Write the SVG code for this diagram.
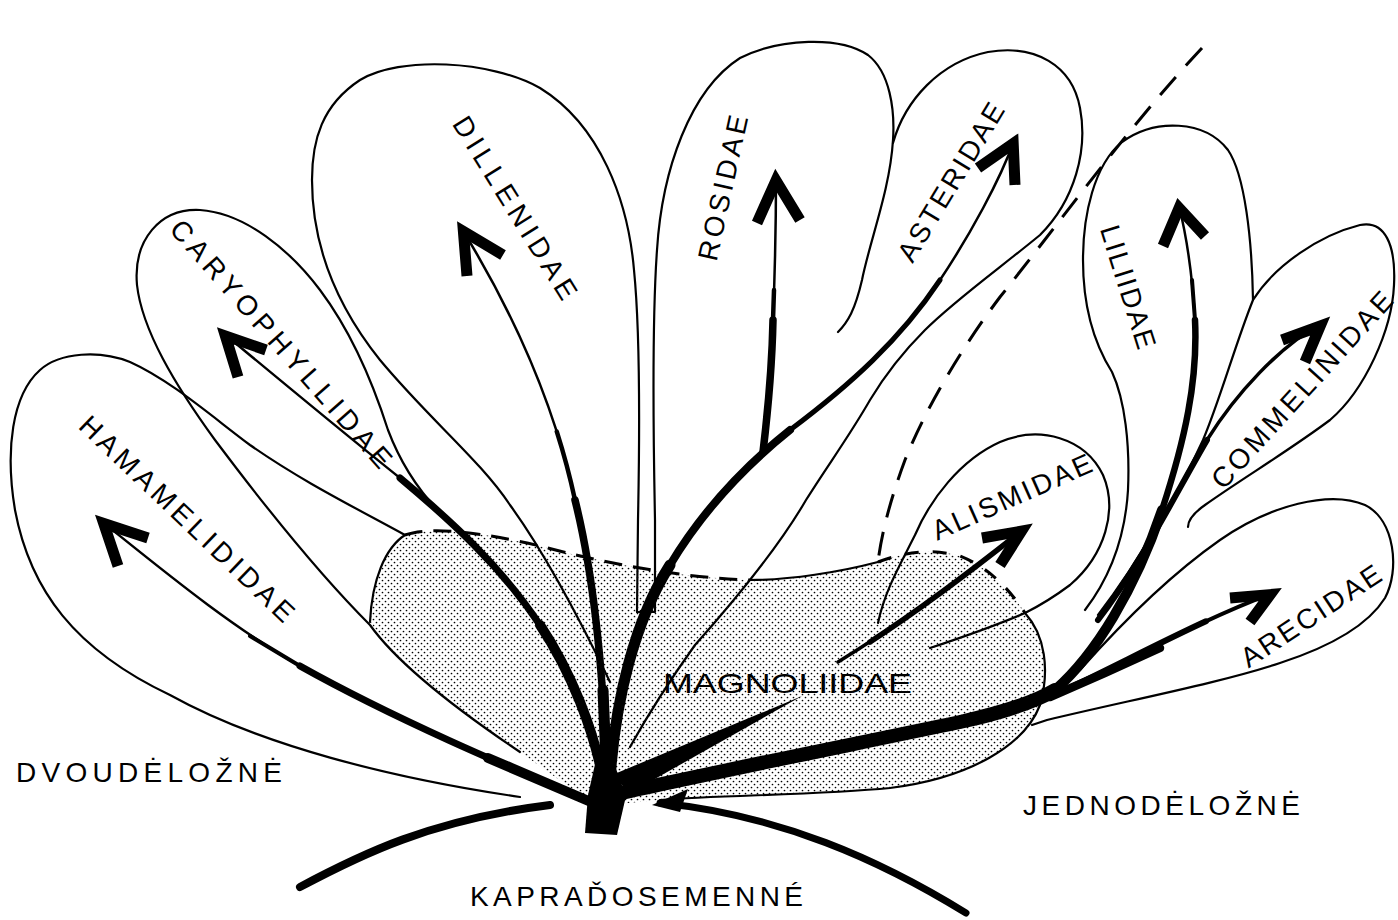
<svg xmlns="http://www.w3.org/2000/svg" width="1398" height="920" viewBox="0 0 1398 920">
<style>
.o{fill:none;stroke:#000;stroke-width:2.2;stroke-linecap:round;stroke-linejoin:round}
.br{fill:none;stroke:#000;stroke-linecap:round;stroke-linejoin:round}
.ah{fill:none;stroke:#000;stroke-width:11;stroke-linejoin:miter;stroke-linecap:butt}
.d{fill:none;stroke:#000;stroke-width:3}
.t{font-family:"Liberation Sans",Arial,sans-serif;font-size:28px;fill:#000}
</style>
<defs>
<pattern id="dots" width="6" height="6" patternUnits="userSpaceOnUse">
<circle cx="1.5" cy="1.5" r="0.85" fill="#000"/>
<circle cx="4.5" cy="4.5" r="0.85" fill="#000"/>
</pattern>
</defs>
<rect width="1398" height="920" fill="#fff"/>

<g id="magnoliidae">
<path d="M 405,535 C 385,548 372,580 370,622 C 395,660 450,705 520,752 L 596,806 L 660,800 C 720,795 820,795 890,788 C 970,778 1025,745 1040,705 C 1050,670 1045,635 1025,613 C 1010,590 990,568 960,556 C 930,548 905,552 878,562 C 840,572 790,580 750,580 C 680,578 600,562 540,546 C 480,532 430,526 405,535 Z" fill="url(#dots)"/>
<path class="o" d="M 405,535 C 385,548 372,580 370,622"/>
<path class="d" stroke-dasharray="18 11" d="M 405,535 C 430,526 480,532 540,546 C 600,562 680,578 750,580"/>
<path class="o" d="M 750,580 C 790,580 840,572 878,562"/>
<path class="d" stroke-dasharray="14 14" d="M 878,562 C 905,552 930,548 960,556 C 990,568 1010,590 1025,613"/>
<path class="o" stroke-width="3" d="M 1025,613 C 1045,635 1050,670 1040,705 C 1025,745 970,778 890,788 C 820,795 720,795 660,800"/>
<text class="t" x="663" y="693" font-size="37" textLength="249" lengthAdjust="spacingAndGlyphs">MAGNOLIIDAE</text>
</g>

<g id="hamamelididae">
<path class="o" d="M 405,535 C 350,505 300,480 250,445 C 210,415 170,380 130,362 C 100,350 60,352 40,370 C 12,395 5,450 15,510 C 30,590 75,650 170,695 C 260,745 390,778 520,797"/>
<text class="t" x="187" y="519" text-anchor="middle" dominant-baseline="central" textLength="285" lengthAdjust="spacing" transform="rotate(43.6 187 519)">HAMAMELIDIDAE</text>
</g>

<g id="caryophyllidae">
<path class="o" d="M 520,752 C 450,705 395,660 370,625 C 320,575 260,500 215,440 C 175,385 142,330 137,285 C 133,240 160,208 200,210 C 245,213 290,250 320,290 C 350,330 372,380 388,430 C 405,475 430,505 455,527"/>
<text class="t" x="281" y="344" text-anchor="middle" dominant-baseline="central" textLength="320" lengthAdjust="spacing" transform="rotate(48.7 281 344)">CARYOPHYLLIDAE</text>
</g>

<g id="dilleniidae">
<path class="o" d="M 637,612 L 638,520 C 640,420 640,330 634,270 C 628,200 600,125 540,88 C 490,60 400,56 360,80 C 322,105 312,140 312,180 C 312,250 340,310 380,360 C 430,420 480,460 510,505 C 550,560 585,630 610,682"/>
<text class="t" x="515" y="208" text-anchor="middle" dominant-baseline="central" textLength="210" lengthAdjust="spacing" transform="rotate(58.2 515 208)">DILLENIDAE</text>
</g>

<g id="rosidae">
<path class="o" d="M 637,612 L 655,612 L 655,520 C 653,420 652,320 657,250 C 662,170 690,90 740,58 C 780,38 840,36 868,55 C 890,72 895,110 893,140 C 890,190 870,240 862,280 C 855,310 848,322 838,332"/>
<text class="t" x="723" y="188" text-anchor="middle" dominant-baseline="central" textLength="148" lengthAdjust="spacing" transform="rotate(-77.6 723 188)">ROSIDAE</text>
</g>

<g id="asteridae">
<path class="o" d="M 893,143 C 905,100 940,62 988,52 C 1035,44 1072,65 1080,108 C 1088,150 1075,200 1040,235 C 1000,268 955,300 925,330 C 900,355 885,375 870,400 C 850,435 828,465 806,500 C 780,545 735,600 695,645 C 670,680 645,720 630,747"/>
<text class="t" x="951" y="182" text-anchor="middle" dominant-baseline="central" textLength="180" lengthAdjust="spacing" transform="rotate(-58.8 951 182)">ASTERIDAE</text>
</g>

<g id="liliidae">
<path class="o" d="M 1253,300 C 1252,240 1245,175 1228,150 C 1205,120 1155,118 1122,142 C 1094,165 1083,215 1083,260 C 1083,310 1095,345 1112,372 C 1125,400 1130,445 1128,490 C 1125,540 1108,580 1085,610"/>
<text class="t" x="1128" y="287" text-anchor="middle" dominant-baseline="central" textLength="128" lengthAdjust="spacing" transform="rotate(72.5 1128 287)">LILIIDAE</text>
</g>

<g id="commelinidae">
<path class="o" d="M 1098,615 C 1140,560 1180,490 1203,440 C 1220,400 1235,345 1253,300 C 1275,265 1320,235 1360,225 C 1385,220 1396,245 1394,285 C 1392,330 1365,390 1330,420 C 1290,450 1240,480 1205,505 C 1195,512 1188,520 1188,527"/>
<text class="t" x="1302" y="390" text-anchor="middle" dominant-baseline="central" textLength="255" lengthAdjust="spacing" transform="rotate(-47.8 1302 390)">COMMELINIDAE</text>
</g>

<g id="alismidae">
<path class="o" d="M 878,623 C 885,590 900,565 915,535 C 930,500 960,460 1000,442 C 1040,425 1085,438 1103,475 C 1118,510 1105,555 1070,585 C 1050,600 1035,608 1025,613 C 990,628 960,638 930,648"/>
<text class="t" x="1012" y="497" text-anchor="middle" dominant-baseline="central" textLength="172" lengthAdjust="spacing" transform="rotate(-24 1012 497)">ALISMIDAE</text>
</g>

<g id="arecidae">
<path class="o" d="M 1080,670 C 1120,625 1170,575 1220,540 C 1270,505 1330,490 1365,505 C 1395,520 1400,570 1385,598 C 1365,630 1320,650 1280,663 C 1220,683 1130,700 1047,720 L 1032,725"/>
<text class="t" x="1311" y="616" text-anchor="middle" dominant-baseline="central" textLength="162" lengthAdjust="spacing" transform="rotate(-33.4 1311 616)">ARECIDAE</text>
</g>

<g id="divider">
<path class="d" stroke-dasharray="24 15" d="M 1202,48 C 1130,125 1060,222 1000,297 C 960,350 925,410 905,460 C 892,495 882,530 878,562"/>
</g>

<g id="connectors">
<!-- Hamamelididae -->
<path class="br" stroke-width="2.5" d="M 598,805 C 520,772 400,722 300,666 C 230,626 165,572 100,520"/>
<path class="br" stroke-width="4" d="M 598,805 C 520,772 400,722 300,666 C 280,654 265,645 250,636"/>
<path class="br" stroke-width="7" d="M 598,805 C 520,772 400,722 300,666"/>
<path class="br" stroke-width="10" d="M 598,805 L 488,758"/>
<polyline class="ah" points="148,538 103.7,523.5 118,566"/>
<!-- Caryophyllidae -->
<path class="br" stroke-width="2.5" d="M 605,790 C 595,730 570,670 540,625 C 500,565 450,520 400,478 C 340,430 280,380 222,332"/>
<path class="br" stroke-width="7" d="M 605,790 C 595,730 570,670 540,625 C 500,565 450,520 400,478"/>
<path class="br" stroke-width="10" d="M 605,790 C 595,730 570,670 540,625"/>
<polyline class="ah" points="266,350 225.4,335.9 238,377"/>
<!-- Dilleniidae -->
<path class="br" stroke-width="2.5" d="M 607,785 C 604,680 595,580 575,500 C 560,430 530,340 462,229"/>
<path class="br" stroke-width="4.5" d="M 607,785 C 604,680 595,580 575,500 C 570.5,479 564.65,456.2 556.8,431.6"/>
<path class="br" stroke-width="7.5" d="M 607,785 C 604,680 595,580 575,500"/>
<path class="br" stroke-width="11" d="M 607,785 L 603,690"/>
<polyline class="ah" points="503,255 463.4,231.4 467,276"/>
<!-- Rosidae -->
<path class="br" stroke-width="2.5" d="M 763,452 C 768,410 772,370 773,320 C 775,270 776,220 776,178"/>
<path class="br" stroke-width="4.5" d="M 763,452 C 768,410 772,370 773,320 L 774,290"/>
<path class="br" stroke-width="7.5" d="M 763,452 C 768,410 772,370 773,320"/>
<polyline class="ah" points="800,220 776,180.5 757,223"/>
<!-- Asteridae -->
<path class="br" stroke-width="2.5" d="M 610,780 C 615,700 635,620 670,565 C 700,515 740,470 790,430 C 850,385 900,340 940,280 C 970,235 1000,180 1014,141"/>
<path class="br" stroke-width="5" d="M 610,780 C 615,700 635,620 670,565 C 700,515 740,470 790,430 C 850,385 900,340 940,280"/>
<path class="br" stroke-width="8" d="M 610,780 C 615,700 635,620 670,565 C 700,515 740,470 790,430"/>
<path class="br" stroke-width="11" d="M 610,780 C 615,700 635,620 670,565"/>
<polyline class="ah" points="978,168 1013.2,143.6 1015,185"/>
<!-- wedge -->
<polygon points="612,775 802,696 630,793" fill="#000"/>
<!-- Liliidae / main monocot branch -->
<path class="br" stroke-width="2.5" d="M 612,795 C 700,775 850,745 960,722 C 1005,712 1035,702 1055,690 C 1095,655 1135,590 1162,510 C 1185,440 1198,380 1195,320 C 1192,270 1185,230 1179,206"/>
<path class="br" stroke-width="4" d="M 612,795 C 700,775 850,745 960,722 C 1005,712 1035,702 1055,690 C 1095,655 1135,590 1162,510 C 1185,440 1198,380 1195,320 L 1192,280"/>
<path class="br" stroke-width="6.5" d="M 612,795 C 700,775 850,745 960,722 C 1005,712 1035,702 1055,690 C 1095,655 1135,590 1162,510 C 1185,440 1198,380 1195,320"/>
<path class="br" stroke-width="10" d="M 612,795 C 700,775 850,745 960,722 C 1005,712 1035,702 1055,690 C 1095,655 1135,590 1162,510"/>
<path class="br" stroke-width="14" d="M 612,795 C 700,775 850,745 960,722 C 1005,712 1035,702 1055,690"/>
<polyline class="ah" points="1205,236 1179.1,207.9 1163,246"/>
<!-- Commelinidae -->
<path class="br" stroke-width="3.5" d="M 1098,620 C 1140,565 1175,495 1207,440 C 1235,395 1280,345 1323,323"/>
<path class="br" stroke-width="6" d="M 1098,620 C 1140,565 1175,495 1207,440"/>
<polyline class="ah" points="1282,340 1320.2,326 1305,362"/>
<!-- Alismidae -->
<path class="br" stroke-width="3.5" d="M 838,662 C 890,630 960,580 1024,529"/>
<path class="br" stroke-width="5.5" d="M 870,642 C 910,616 960,580 1024,529"/>
<polyline class="ah" points="982,538 1021.5,531.1 1000,565"/>
<!-- Arecidae -->
<path class="br" stroke-width="4" d="M 1050,697 C 1120,665 1200,620 1273,593"/>
<path class="br" stroke-width="6" d="M 1050,697 C 1099,674.6 1152.9,645.8 1205.9,621.3"/>
<path class="br" stroke-width="8.5" d="M 1050,697 C 1090,680 1130,662 1160,648"/>
<polyline class="ah" points="1230,598 1270.2,594.6 1250,622"/>
<!-- trunk -->
<polygon points="585,833 617,835 626,796 612,758 596,760 588,795" fill="#000"/>
<!-- pteridosperm arcs -->
<path class="br" stroke-width="8" stroke-linecap="butt" d="M 300,887 C 360,855 430,820 550,805"/>
<path class="br" stroke-width="7" stroke-linecap="butt" d="M 966,913 C 880,860 780,815 660,803"/>
<polygon points="652,805 688,789 680,812" fill="#000"/>
</g>

<g id="labels">
<text class="t" x="16" y="782" textLength="266" lengthAdjust="spacing">DVOUDĖLOŽNĖ</text>
<text class="t" x="1023" y="815" textLength="277" lengthAdjust="spacing">JEDNODĖLOŽNĖ</text>
<text class="t" x="470" y="906" font-size="30" textLength="333" lengthAdjust="spacing">KAPRAĎOSEMENNÉ</text>
</g>
</svg>
